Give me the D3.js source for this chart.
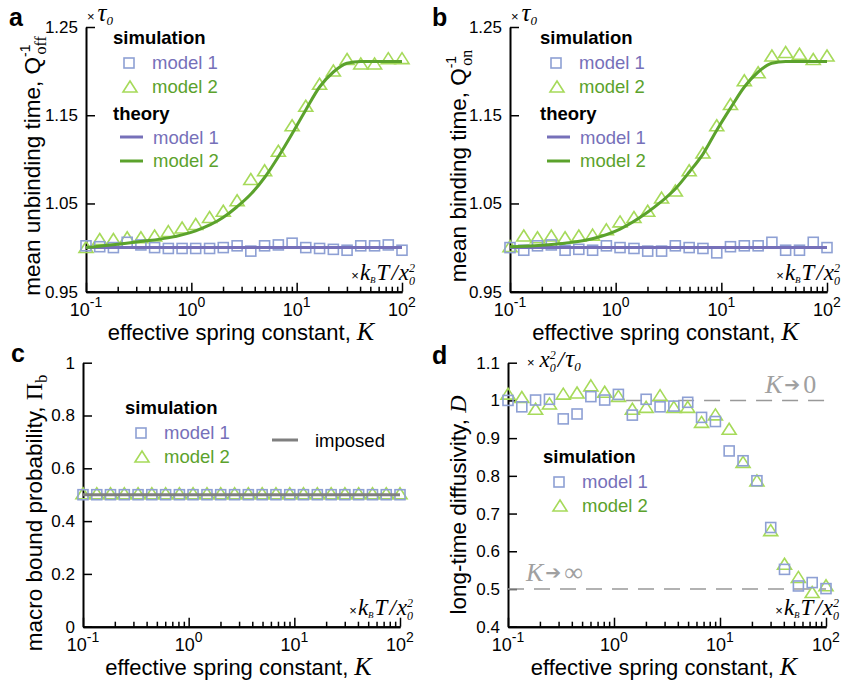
<!DOCTYPE html>
<html>
<head>
<meta charset="utf-8">
<title>Spring constant panels</title>
<style>
    body { margin: 0; background: #fff; }
    svg text { font-family: "Liberation Sans", Arial, Helvetica, sans-serif; }
    .math { font-family: "Liberation Serif", "Times New Roman", serif; font-style: italic; }
    .rom { font-family: "Liberation Serif", "Times New Roman", serif; }
</style>
</head>
<body>
<svg id="fig" width="843" height="681"></svg>

<script src="https://d3js.org/d3.v7.min.js"></script>
<script>
    // spring constants used by the simulations (same grid in all panels)
    var K = [0.1, 0.135, 0.182, 0.246, 0.332, 0.448, 0.605, 0.817, 1.10, 1.49, 2.01, 2.72,
             3.67, 4.96, 6.70, 9.05, 12.2, 16.5, 22.3, 30.1, 40.6, 54.9, 74.1, 100];

    // a: mean unbinding time
    var offSim1 = [1.002, 1.001, 1.000, 1.006, 1.003, 1.000, 0.999, 0.999, 0.999, 0.999, 1.000, 1.002,
                   0.996, 1.002, 1.003, 1.005, 1.000, 0.999, 0.998, 0.997, 1.002, 1.002, 1.003, 0.997];
    var offSim2 = [0.999, 1.008, 1.008, 1.010, 1.010, 1.012, 1.017, 1.021, 1.025, 1.033, 1.040, 1.052,
                   1.076, 1.086, 1.108, 1.137, 1.159, 1.184, 1.199, 1.212, 1.207, 1.207, 1.213, 1.213];

    // b: mean binding time
    var onSim1 = [1.000, 0.997, 1.002, 1.003, 0.997, 0.998, 0.997, 1.002, 1.000, 0.999, 0.996, 0.996,
                  1.002, 1.000, 0.999, 0.994, 1.001, 1.002, 1.002, 1.006, 0.997, 0.997, 1.006, 1.000];
    var onSim2 = [1.000, 1.012, 1.010, 1.012, 1.010, 1.012, 1.013, 1.019, 1.028, 1.033, 1.040, 1.055,
                  1.063, 1.086, 1.106, 1.137, 1.161, 1.188, 1.197, 1.216, 1.220, 1.218, 1.212, 1.216];

    // theory curves
    var thK    = [0.1, 0.33, 0.6, 1.1, 2.0, 2.7, 3.7, 5.0, 6.7, 9.05, 12.2, 16.5, 22.3, 30, 40.6, 100];
    var thOff2 = [1.000, 1.007, 1.011, 1.019, 1.034, 1.046, 1.061, 1.080, 1.103, 1.129, 1.156, 1.182,
                  1.199, 1.209, 1.211, 1.211];
    var thOn2  = [1.001, 1.005, 1.010, 1.021, 1.040, 1.052, 1.067, 1.086, 1.106, 1.133, 1.158, 1.182,
                  1.199, 1.209, 1.211, 1.211];
    var thFlatK = [0.1, 100];
    var thFlat  = [1.0, 1.0];

    // c: macro bound probability
    var probSim1 = [0.5, 0.5, 0.5, 0.5, 0.5, 0.5, 0.5, 0.5, 0.5, 0.5, 0.5, 0.5,
                    0.5, 0.5, 0.5, 0.5, 0.5, 0.5, 0.5, 0.5, 0.5, 0.5, 0.5, 0.5];
    var probSim2 = [0.5, 0.5, 0.5, 0.5, 0.5, 0.5, 0.5, 0.5, 0.5, 0.5, 0.5, 0.5,
                    0.5, 0.5, 0.5, 0.5, 0.5, 0.5, 0.5, 0.5, 0.5, 0.5, 0.5, 0.5];
    var imposed = [0.5, 0.5];

    // d: long-time diffusivity
    var diffSim1 = [1.000, 0.983, 1.001, 1.003, 0.951, 0.964, 1.010, 1.001, 1.016, 0.961, 1.003, 0.983,
                    0.985, 0.995, 0.955, 0.944, 0.866, 0.840, 0.787, 0.663, 0.552, 0.508, 0.517, 0.501];
    var diffSim2 = [1.014, 1.005, 0.974, 0.988, 1.014, 1.017, 1.036, 1.019, 1.008, 0.974, 0.979, 1.010,
                    0.979, 0.979, 0.939, 0.959, 0.921, 0.833, 0.784, 0.652, 0.563, 0.528, 0.488, 0.506];
    var limitSmallK = [1.3, 100];   // K -> 0 line drawn over this range
    var limitLargeK = [0.1, 100];

    // ticks
    var xMajor = [0.1, 1, 10, 100];
    var xExp = ["-1", "0", "1", "2"];
    var xMinor = [0.2, 0.3, 0.4, 0.5, 0.6, 0.7, 0.8, 0.9, 2, 3, 4, 5, 6, 7, 8, 9, 20, 30, 40, 50, 60, 70, 80, 90];
    var timeTicks = [0.95, 1.05, 1.15, 1.25];
    var timeLabels = ["0.95", "1.05", "1.15", "1.25"];
    var probTicks = [0, 0.2, 0.4, 0.6, 0.8, 1];
    var probLabels = ["0", "0.2", "0.4", "0.6", "0.8", "1"];
    var diffTicks = [0.4, 0.5, 0.6, 0.7, 0.8, 0.9, 1.0, 1.1];
    var diffLabels = ["0.4", "0.5", "0.6", "0.7", "0.8", "0.9", "1", "1.1"];

    var sqColor = "#8ea0d4", triColor = "#a6da5a";
    var m1Color = "#7670b9", m2Color = "#5ba22c";

    var svg = d3.select("#fig");

    function panel(o) {
        var x = d3.scaleLog().domain([0.1, 100]).range([o.left, o.right]);
        var y = d3.scaleLinear().domain(o.yDomain).range([o.bottom, o.top]);
        var g = svg.append("g");

        // axes, ticks pointing inward
        var xa = g.append("g").attr("transform", "translate(0," + o.bottom + ")");
        xa.append("g").call(d3.axisBottom(x).tickValues(xMinor).tickSizeInner(-5).tickSizeOuter(0).tickFormat(""));
        xa.append("g").call(d3.axisBottom(x).tickValues(xMajor).tickSizeInner(-9).tickSizeOuter(0).tickFormat(""));
        xa.selectAll(".domain").attr("stroke-width", 2);
        xa.selectAll(".tick line").attr("stroke-width", 1.5);

        xMajor.forEach(function (v, i) {
            var t = g.append("text").attr("x", x(v)).attr("y", o.bottom + 24)
                .attr("text-anchor", "middle").attr("font-size", 18);
            t.append("tspan").text("10");
            t.append("tspan").attr("font-size", 14).attr("dy", -9).text(xExp[i]);
        });

        var ya = g.append("g").attr("transform", "translate(" + o.left + ",0)")
            .call(d3.axisLeft(y).tickValues(o.yTicks).tickFormat(function (d, i) { return o.yLabels[i]; })
                .tickSizeInner(-9).tickSizeOuter(0).tickPadding(8));
        ya.selectAll(".domain").attr("stroke-width", 2);
        ya.selectAll(".tick line").attr("stroke-width", 1.5);
        ya.selectAll(".tick text").attr("font-size", 17).attr("font-family", null).attr("fill", "#000");

        // x label
        var xl = g.append("text").attr("x", (o.left + o.right) / 2 - 3).attr("y", o.bottom + 48)
            .attr("text-anchor", "middle").attr("font-size", 22);
        xl.append("tspan").text("effective spring constant, ");
        xl.append("tspan").attr("class", "math").attr("font-size", 26).text("K");

        // panel letter
        g.append("text").attr("x", o.letterX).attr("y", o.letterY)
            .attr("font-size", 25).attr("font-weight", "bold").text(o.letter);

        // unit of K, bottom right
        var u = g.append("text").attr("x", o.right + 13).attr("y", o.bottom - 12).attr("text-anchor", "end");
        u.append("tspan").attr("font-size", 13).text("×");
        u.append("tspan").attr("class", "math").attr("font-size", 23).attr("dx", 1).text("k");
        u.append("tspan").attr("class", "math").attr("font-size", 9).attr("dy", 3).text("B");
        u.append("tspan").attr("class", "math").attr("font-size", 23).attr("dx", 1).attr("dy", -3).text("T");
        u.append("tspan").attr("class", "math").attr("font-size", 23).attr("dx", 2).text("/");
        u.append("tspan").attr("class", "math").attr("font-size", 23).attr("dx", 1).text("x");
        u.append("tspan").attr("class", "math").attr("font-size", 12).attr("dy", 5).text("0");
        u.append("tspan").attr("class", "math").attr("font-size", 12).attr("dx", -6).attr("dy", -13).text("2");

        return { g: g, x: x, y: y };
    }

    function markers(p, sim1, sim2) {
        p.g.append("g").selectAll("path")
            .data(sim2).enter().append("path")
            .attr("d", "M0,-7L7,4L-7,4Z")
            .attr("transform", function (d, i) { return "translate(" + p.x(K[i]) + "," + p.y(d) + ")"; })
            .attr("fill", "none").attr("stroke", triColor).attr("stroke-width", 1.6);
        p.g.append("g").selectAll("rect")
            .data(sim1).enter().append("rect")
            .attr("x", function (d, i) { return p.x(K[i]) - 5; })
            .attr("y", function (d) { return p.y(d) - 5; })
            .attr("width", 10).attr("height", 10)
            .attr("fill", "none").attr("stroke", sqColor).attr("stroke-width", 1.6);
    }

    function curve(p, ks, vs, color, width, dash) {
        var line = d3.line().x(function (d) { return p.x(d[0]); }).y(function (d) { return p.y(d[1]); })
            .curve(d3.curveMonotoneX);
        p.g.append("path").datum(ks.map(function (k, i) { return [k, vs[i]]; }))
            .attr("d", line).attr("fill", "none").attr("stroke", color).attr("stroke-width", width)
            .attr("stroke-dasharray", dash || null);
    }

    function simLegend(g, x0, y0, withTheory) {
        g.append("text").attr("x", x0).attr("y", y0).attr("font-size", 18.5).attr("font-weight", "bold").text("simulation");
        g.append("rect").attr("x", x0 + 11).attr("y", y0 + 14).attr("width", 10).attr("height", 10)
            .attr("fill", "none").attr("stroke", sqColor).attr("stroke-width", 1.6);
        g.append("text").attr("x", x0 + 39).attr("y", y0 + 25).attr("font-size", 18.5).attr("fill", m1Color).text("model 1");
        g.append("path").attr("d", "M0,-7L7,4L-7,4Z").attr("transform", "translate(" + (x0 + 17) + "," + (y0 + 44) + ")")
            .attr("fill", "none").attr("stroke", triColor).attr("stroke-width", 1.6);
        g.append("text").attr("x", x0 + 39).attr("y", y0 + 49).attr("font-size", 18.5).attr("fill", m2Color).text("model 2");
        if (withTheory) {
            g.append("text").attr("x", x0).attr("y", y0 + 76).attr("font-size", 18.5).attr("font-weight", "bold").text("theory");
            g.append("line").attr("x1", x0 + 7).attr("x2", x0 + 30).attr("y1", y0 + 93).attr("y2", y0 + 93)
                .attr("stroke", m1Color).attr("stroke-width", 3);
            g.append("text").attr("x", x0 + 40).attr("y", y0 + 100).attr("font-size", 18.5).attr("fill", m1Color).text("model 1");
            g.append("line").attr("x1", x0 + 7).attr("x2", x0 + 30).attr("y1", y0 + 117).attr("y2", y0 + 117)
                .attr("stroke", m2Color).attr("stroke-width", 3);
            g.append("text").attr("x", x0 + 40).attr("y", y0 + 123).attr("font-size", 18.5).attr("fill", m2Color).text("model 2");
        }
    }

    function tauUnit(g, x0, y0) {
        var t = g.append("text").attr("x", x0).attr("y", y0);
        t.append("tspan").attr("font-size", 13).text("×");
        t.append("tspan").attr("class", "math").attr("font-size", 25).attr("dx", 3).text("τ");
        t.append("tspan").attr("class", "math").attr("font-size", 13).attr("dy", 4).text("0");
    }

    function yLabel(g, cx, cy, parts) {
        var t = g.append("text").attr("transform", "translate(" + cx + "," + cy + ") rotate(-90)")
            .attr("text-anchor", "middle").attr("font-size", 22.5);
        parts(t);
    }

    function limitLabel(g, x0, y0, end) {
        var t = g.append("text").attr("x", x0).attr("y", y0).attr("fill", "#a0a0a0").attr("font-size", 26);
        t.append("tspan").attr("class", "math").text("K");
        t.append("tspan").attr("font-family", "DejaVu Sans").attr("font-size", 19).attr("dx", 2).attr("dy", -2).text("➔");
        t.append("tspan").attr("class", "rom").attr("dx", 3).attr("dy", 2).text(end);
    }

    // ---- a ----
    var pa = panel({ left: 86, right: 402, top: 27, bottom: 291.7, yDomain: [0.95, 1.25],
                     yTicks: timeTicks, yLabels: timeLabels, letter: "a", letterX: 9, letterY: 26 });
    markers(pa, offSim1, offSim2);
    curve(pa, thFlatK, thFlat, m1Color, 3);
    curve(pa, thK, thOff2, m2Color, 3);
    simLegend(pa.g, 113, 44, true);
    tauUnit(pa.g, 87, 21);
    yLabel(pa.g, 40, 166, function (t) {
        t.append("tspan").text("mean unbinding time, Q");
        t.append("tspan").attr("font-size", 14).attr("dy", -10).text("-1");
        t.append("tspan").attr("class", "rom").attr("font-size", 16).attr("dx", -10).attr("dy", 16).text("off");
    });

    // ---- b ----
    var pb = panel({ left: 510, right: 827, top: 27, bottom: 291.7, yDomain: [0.95, 1.25],
                     yTicks: timeTicks, yLabels: timeLabels, letter: "b", letterX: 432, letterY: 26 });
    markers(pb, onSim1, onSim2);
    curve(pb, thFlatK, thFlat, m1Color, 3);
    curve(pb, thK, thOn2, m2Color, 3);
    simLegend(pb.g, 540, 44, true);
    tauUnit(pb.g, 511, 21);
    yLabel(pb.g, 466, 166, function (t) {
        t.append("tspan").text("mean binding time, Q");
        t.append("tspan").attr("font-size", 14).attr("dy", -10).text("-1");
        t.append("tspan").attr("class", "rom").attr("font-size", 16).attr("dx", -10).attr("dy", 16).text("on");
    });

    // ---- c ----
    var pc = panel({ left: 83, right: 400, top: 362.7, bottom: 626.7, yDomain: [0, 1],
                     yTicks: probTicks, yLabels: probLabels, letter: "c", letterX: 11, letterY: 362 });
    markers(pc, probSim1, probSim2);
    curve(pc, thFlatK, imposed, "#7f7f7f", 3);
    simLegend(pc.g, 125, 414, false);
    pc.g.append("line").attr("x1", 272).attr("x2", 298).attr("y1", 440).attr("y2", 440)
        .attr("stroke", "#7f7f7f").attr("stroke-width", 3);
    pc.g.append("text").attr("x", 315).attr("y", 447).attr("font-size", 18.5).text("imposed");
    yLabel(pc.g, 42, 513, function (t) {
        t.append("tspan").text("macro bound probability, ");
        t.append("tspan").attr("class", "rom").attr("font-size", 24).text("Π");
        t.append("tspan").attr("class", "rom").attr("font-size", 16).attr("dy", 5).text("b");
    });

    // ---- d ----
    var pd = panel({ left: 508, right: 826, top: 362.7, bottom: 626.7, yDomain: [0.4, 1.1],
                     yTicks: diffTicks, yLabels: diffLabels, letter: "d", letterX: 432, letterY: 364 });
    curve(pd, limitSmallK, [1.0, 1.0], "#999", 1.5, "16,10");
    curve(pd, limitLargeK, [0.5, 0.5], "#999", 1.5, "16,10");
    markers(pd, diffSim1, diffSim2);
    simLegend(pd.g, 543, 463, false);
    var dt = pd.g.append("text").attr("x", 527).attr("y", 367);
    dt.append("tspan").attr("font-size", 13).text("×");
    dt.append("tspan").attr("class", "math").attr("font-size", 23).attr("dx", 5).text("x");
    dt.append("tspan").attr("class", "math").attr("font-size", 12).attr("dy", 5).text("0");
    dt.append("tspan").attr("class", "math").attr("font-size", 12).attr("dx", -6).attr("dy", -13).text("2");
    dt.append("tspan").attr("class", "math").attr("font-size", 23).attr("dx", 2).attr("dy", 8).text("/");
    dt.append("tspan").attr("class", "math").attr("font-size", 25).attr("dx", 1).text("τ");
    dt.append("tspan").attr("class", "math").attr("font-size", 13).attr("dy", 4).text("0");

    limitLabel(pd.g, 765, 393, "0");
    limitLabel(pd.g, 526, 581, "∞");

    yLabel(pd.g, 466, 505, function (t) {
        t.append("tspan").text("long-time diffusivity, ");
        t.append("tspan").attr("class", "math").attr("font-size", 24).text("D");
    });
</script>
</body>
</html>
